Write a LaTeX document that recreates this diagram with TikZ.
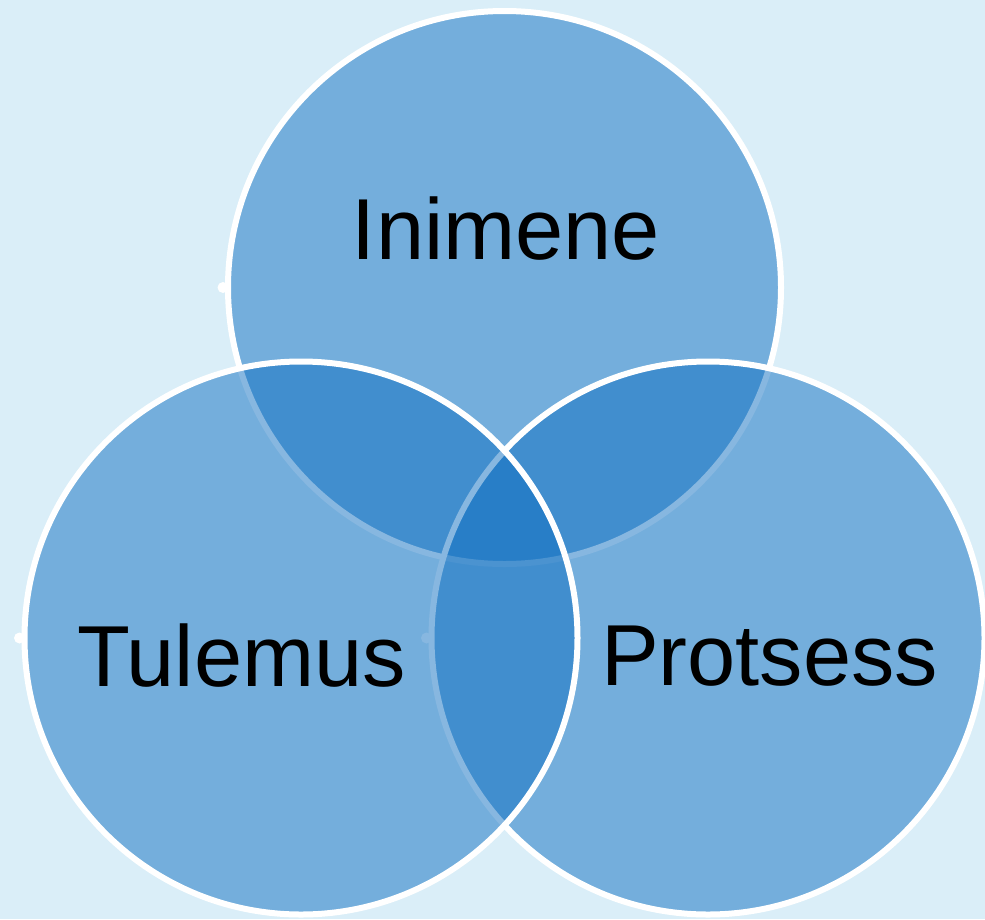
\documentclass[tikz,border=0pt]{standalone}
\usepackage{fontspec}
\setmainfont{Liberation Sans}
\definecolor{bgblue}{RGB}{218,238,248}
\definecolor{vennfill}{RGB}{16,112,194}
\tikzset{
  venn/.style={circle, inner sep=0pt, outer sep=0pt, minimum size=553pt,
    draw=white, line width=6pt, fill=vennfill, fill opacity=0.5, draw opacity=1},
  venndot/.style={fill=white},
  vennlabel/.style={anchor=base, inner sep=0pt, text=black,
    font=\fontsize{86.6pt}{100pt}\selectfont}
}
\begin{document}
\begin{tikzpicture}[x=1pt,y=-1pt]
\fill[bgblue] (0,0) rectangle (985,919);
\useasboundingbox (0,0) rectangle (985,919);
\node[venn] (top) at (504.5,287.5) {};
\fill[venndot] ([xshift=-5pt]top.west) circle (5.5pt);
\node[venn] (right) at (708,638) {};
\fill[venndot] ([xshift=-5pt]right.west) circle (5.5pt);
\node[venn] (left) at (301,638) {};
\fill[venndot] ([xshift=-5pt]left.west) circle (5.5pt);
\node[vennlabel] (t1) at (506,259) {Inimene};
\node[vennlabel] (t2) at (241.5,686) {Tulemus};
\node[vennlabel] (t3) at (769.5,685) {Protsess};
\end{tikzpicture}
\end{document}
